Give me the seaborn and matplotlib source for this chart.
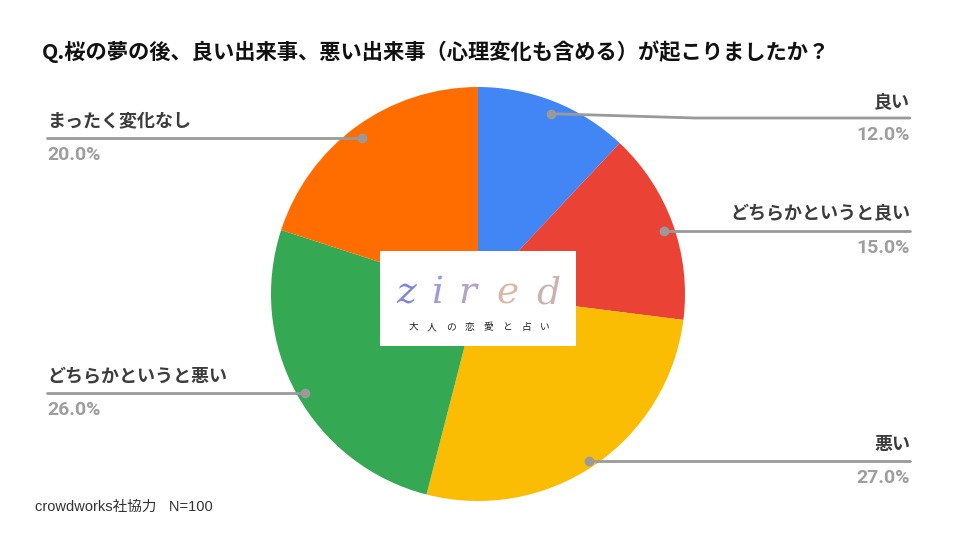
import matplotlib
matplotlib.use("Agg")
import matplotlib.pyplot as plt
import seaborn as sns
import numpy as np
import pandas as pd
from matplotlib.patches import Rectangle

# ---- data ----
categories = ["良い", "どちらかというと良い", "悪い", "どちらかというと悪い", "まったく変化なし"]
values = [12.0, 15.0, 27.0, 26.0, 20.0]
pct_labels = ["12.0%", "15.0%", "27.0%", "26.0%", "20.0%"]
title = "Q.桜の夢の後、良い出来事、悪い出来事（心理変化も含める）が起こりましたか？"
footer = "crowdworks社協力   N=100"
logo_letters = ["z", "i", "r", "e", "d"]
logo_sub = "大人の恋愛と占い"

df = pd.DataFrame({"category": categories, "value": values, "pct": pct_labels})

sns.set_theme(style="white")
plt.rcParams["font.family"] = ["Noto Sans CJK JP", "DejaVu Sans"]

colors = ["#4285F4", "#EA4335", "#FBBC04", "#34A853", "#FF6D01"]

W, H = 960, 540
fig = plt.figure(figsize=(9.6, 5.4), dpi=100)
fig.patch.set_facecolor("white")

# pie geometry (pixels)
cx, cy, R = 478, 294, 207
ax_pie = fig.add_axes([(cx - R) / W, (H - cy - R) / H, 2 * R / W, 2 * R / H])
ax_pie.pie(df["value"], colors=colors, startangle=90, counterclock=False,
           radius=1.0, wedgeprops=dict(linewidth=0))
ax_pie.set_xlim(-1, 1)
ax_pie.set_ylim(-1, 1)
ax_pie.set_aspect("equal")
ax_pie.axis("off")

# overlay in pixel coordinates
ax = fig.add_axes([0, 0, 1, 1], zorder=5)
ax.set_xlim(0, W)
ax.set_ylim(H, 0)
ax.axis("off")
ax.patch.set_alpha(0)

# leader dot positions computed from wedge mid-angles
cum = np.cumsum([0] + values[:-1])
mids = 90 - (cum + np.array(values) / 2) * 3.6
rdot = 0.955 * R
line_col = "#9a9a9a"
text_col = "#3c3c3c"
pct_col = "#9e9e9e"
fs = 13
pfs = 14

for i, (cat, pct, ang) in enumerate(zip(categories, pct_labels, mids)):
    a = np.deg2rad(ang)
    dx, dy = cx + rdot * np.cos(a), cy + 3.5 - rdot * np.sin(a)
    ax.plot(dx, dy, "o", color=line_col, ms=6, zorder=6)
    if np.cos(a) >= 0:
        ly = max(dy, 118)
        if ly != dy:
            ax.plot([dx, 695, 910], [dy, ly, ly], color=line_col, lw=2, zorder=5)
        else:
            ax.plot([dx, 910], [dy, ly], color=line_col, lw=2, zorder=5)
        ax.text(910, ly - 7, cat, ha="right", va="bottom", fontsize=fs,
                fontweight="bold", color=text_col)
        ax.text(910, ly + 8, pct, ha="right", va="top", fontsize=pfs,
                fontweight="bold", color=pct_col, family=["Roboto", "DejaVu Sans"])
    else:
        ly = dy
        ax.plot([47, dx], [ly, ly], color=line_col, lw=2, zorder=5)
        ax.text(47, ly - 7, cat, ha="left", va="bottom", fontsize=fs,
                fontweight="bold", color=text_col)
        ax.text(47, ly + 8, pct, ha="left", va="top", fontsize=pfs,
                fontweight="bold", color=pct_col, family=["Roboto", "DejaVu Sans"])

# title and footer
ax.text(42, 52, title, ha="left", va="center", fontsize=15.3, fontweight="bold",
        color="#111111")
ax.text(35, 507, footer, ha="left", va="center", fontsize=10.5, color="#333333",
        family=["Liberation Sans", "Noto Sans CJK JP"])

# logo box
ax.add_patch(Rectangle((380, 251), 196, 95, facecolor="white", edgecolor="none", zorder=7))
logo_x = [406, 437, 467, 508, 548]
logo_cols = ["#7f86dc", "#9b9be0", "#b4a3c4", "#d9b8a6", "#cbb2ae"]
for ch, x, c in zip(logo_letters, logo_x, logo_cols):
    ax.text(x, 303, ch, ha="center", va="baseline", fontsize=27, color=c,
            family="DejaVu Serif", style="italic", fontweight="light", zorder=8)
sub_x = np.linspace(413, 545, len(logo_sub))
for ch, x in zip(logo_sub, sub_x):
    ax.text(x, 327, ch, ha="center", va="center", fontsize=7, color="#222222", zorder=8)

fig.savefig("out.png", dpi=100, facecolor="white")
